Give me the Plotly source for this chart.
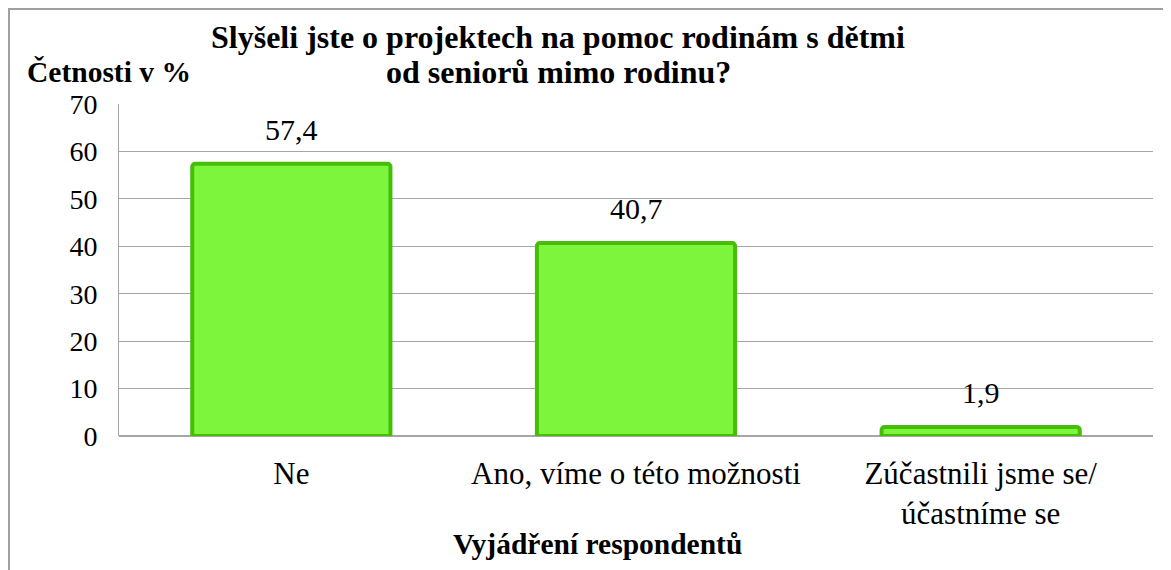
import plotly.graph_objects as go

categories = ["Ne", "Ano, víme o této možnosti", "Zúčastnili jsme se/<br>účastníme se"]
values = [57.4, 40.7, 1.9]
value_labels = ["57,4", "40,7", "1,9"]
y_ticks = [0, 10, 20, 30, 40, 50, 60, 70]
title_lines = ["Slyšeli jste o projektech na pomoc rodinám s dětmi", "od seniorů mimo rodinu?"]
x_title = "Vyjádření respondentů"
y_title = "Četnosti v %"

FONT = "Liberation Serif"

# page body has an 8px margin, so the figure starts at (8, 8)
W, H = 1163, 562
ML, MR, MT, MB = 111, 18, 96, 134
PW, PH = W - ML - MR, H - MT - MB

def px_x(x):
    return (x - ML) / PW

def px_y(y):
    return (H - MB - y) / PH

fig = go.Figure()
fig.add_trace(go.Bar(
    x=categories, y=values,
    marker=dict(color="#7CF53C", line=dict(color="#46BE08", width=4), cornerradius=3),
    cliponaxis=False, hoverinfo="skip",
))

annotations = []
for i, line in enumerate(title_lines):
    annotations.append(dict(
        text=f"<b>{line}</b>", xref="paper", yref="paper",
        x=px_x(550), y=px_y(29 + 35 * i), xanchor="center", yanchor="middle",
        showarrow=False, font=dict(family=FONT, size=32, color="black")))
annotations.append(dict(
    text=f"<b>{y_title}</b>", xref="paper", yref="paper",
    x=px_x(17), y=px_y(64), xanchor="left", yanchor="middle",
    showarrow=False, font=dict(family=FONT, size=29.5, color="black")))
annotations.append(dict(
    text=f"<b>{x_title}</b>", xref="paper", yref="paper",
    x=px_x(589), y=px_y(536), xanchor="center", yanchor="middle",
    showarrow=False, font=dict(family=FONT, size=29.5, color="black")))
for c, v, t in zip(categories, values, value_labels):
    annotations.append(dict(
        text=t, x=c, y=v, xref="x", yref="y", xanchor="center", yanchor="middle",
        yshift=34, showarrow=False, font=dict(family=FONT, size=30, color="black")))

fig.update_layout(
    width=W, height=H,
    margin=dict(l=ML, r=MR, t=MT, b=MB),
    paper_bgcolor="white", plot_bgcolor="white",
    bargap=0.425,
    showlegend=False,
    xaxis=dict(
        showgrid=False, showline=False, zeroline=False, ticks="",
        ticklabelstandoff=16,
        tickfont=dict(family=FONT, size=31, color="black"),
    ),
    yaxis=dict(
        range=[0, 70], tickvals=y_ticks,
        showgrid=True, gridcolor="#A6A6A6", gridwidth=1,
        showline=True, linecolor="#A6A6A6", linewidth=1,
        zeroline=True, zerolinecolor="#A6A6A6", zerolinewidth=2,
        ticks="", ticklabelstandoff=15,
        tickfont=dict(family=FONT, size=28, color="black"),
    ),
    annotations=annotations,
    shapes=[dict(
        type="rect", xref="paper", yref="paper",
        x0=px_x(1), y0=-2, x1=2, y1=px_y(1),
        line=dict(color="#A0A0A0", width=2), fillcolor="rgba(0,0,0,0)",
        layer="below",
    )],
)

fig.write_html("out.html")
